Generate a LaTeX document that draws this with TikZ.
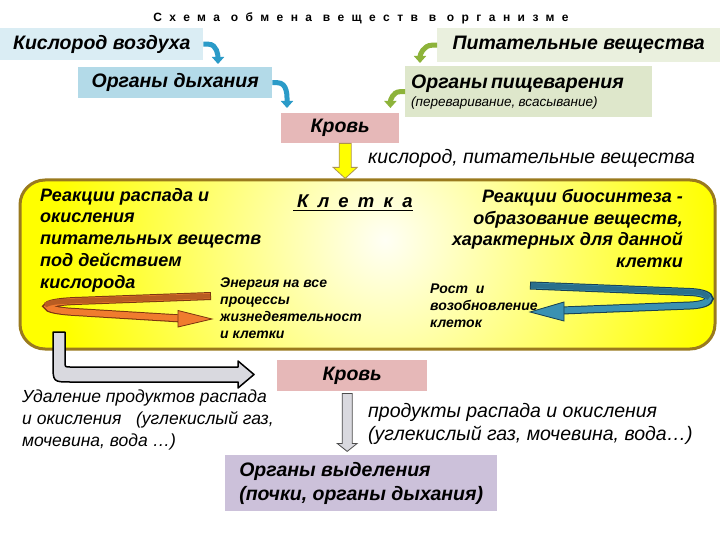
\documentclass[tikz,border=0pt]{standalone}
\usepackage{fontspec}
\setmainfont{Liberation Sans}
\usetikzlibrary{arrows.meta,calc}
\definecolor{cKV}{HTML}{DAEDF4}
\definecolor{cOD}{HTML}{B3DAE8}
\definecolor{cPV}{HTML}{EAF0DE}
\definecolor{cOP}{HTML}{DEE7CB}
\definecolor{cKR}{HTML}{E6B8B8}
\definecolor{cOV}{HTML}{CCC1DA}
\definecolor{cBlueArr}{HTML}{2B9BC8}
\definecolor{cGreenArr}{HTML}{8DB33A}
\definecolor{cCellBorder}{HTML}{9A7A1E}
\definecolor{cYel}{HTML}{FFFF00}
\definecolor{cOrDark}{HTML}{B85C22}
\definecolor{cOrLight}{HTML}{F07C2E}
\definecolor{cOrLine}{HTML}{7A3410}
\definecolor{cBlDark}{HTML}{2A6F8C}
\definecolor{cBlLight}{HTML}{3A91B2}
\definecolor{cBlLine}{HTML}{163F52}
\definecolor{cGrayArr}{HTML}{D9D9DF}
\newcommand{\bi}{\bfseries\itshape\fontsize{19.5}{22}\selectfont}
\tikzset{
  box/.style={inner sep=0pt, anchor=north west},
  barrow/.style={line width=5pt, draw=cBlueArr, -{Triangle[width=12pt,length=7pt]}},
  garrow/.style={line width=5pt, draw=cGreenArr, -{Triangle[width=12pt,length=7pt]}},
  celltext/.style={inner sep=0pt, font=\bfseries\itshape\fontsize{18}{21.75}\selectfont},
  smalltext/.style={inner sep=0pt, anchor=north west, align=left, font=\bfseries\itshape\fontsize{14}{17}\selectfont},
  plaintext/.style={inner sep=0pt, anchor=north west, align=left}
}
\begin{document}
\begin{tikzpicture}[x=1pt,y=-1pt]
\useasboundingbox (0,0) rectangle (720,540);
\fill[white] (0,0) rectangle (720,540);

% title
\node[inner sep=0pt] (title) at (361,18) {\bfseries\fontsize{12}{14}\selectfont\addfontfeature{LetterSpace=62}Схема обмена веществ в организме};

% top boxes
\node[box, fill=cKV, minimum width=203pt, minimum height=32pt, font=\bi] (kv) at (0,28) {Кислород воздуха};
\node[box, fill=cOD, minimum width=194pt, minimum height=31pt, font=\bi] (od) at (78,67) {Органы дыхания};
\node[box, fill=cPV, minimum width=283pt, minimum height=34pt, font=\bi] (pv) at (437,28) {Питательные вещества};
\node[box, fill=cOP, minimum height=51pt, text width=235pt, inner xsep=6pt, align=left] (op) at (405,66)
  {{\bi Органы пищеварения}\\[3pt]{\itshape\fontsize{13.5}{15}\selectfont (переваривание, всасывание)}};
\node[box, fill=cKR, minimum width=118pt, minimum height=30pt, font=\bi] (kr1) at (281,113) {Кровь};

% bent arrows
\draw[barrow] (kv.east) -- ++(5,0) to[out=0,in=90] ($(od.north west)+(140,-3)$);
\draw[barrow] (od.east) -- ++(5,0) to[out=0,in=90] ($(kr1.north west)+(6,-5)$);
\draw[garrow] (pv.west) -- ++(-5,0) to[out=180,in=90] ($(op.north west)+(15,-3)$);
\draw[garrow] (op.west) -- ++(-5,0) to[out=180,in=90] ($(kr1.north east)+(-9,-5)$);

% cell
\begin{scope}
  \clip[rounded corners=25pt] (20,180) rectangle (715,349);
  \fill[cYel] (20,180) rectangle (715,349);
  \shade[inner color=yellow!4, outer color=cYel] (385,240) circle (330);
\end{scope}
\node[draw=cCellBorder, line width=3pt, rounded corners=25pt, minimum width=695pt, minimum height=169pt, inner sep=0pt] (cell) at (367.5,264.5) {};

% yellow arrow Кровь -> cell
\draw[fill=cYel, draw=cCellBorder!80, line width=0.8pt] ($(kr1.south)+(-1,0)$) -- ++(12,0) -- ++(0,24) -- ++(6,0) -- ++(-12,11) -- ++(-12,-11) -- ++(6,0) -- cycle;
\node[plaintext, anchor=west, font=\itshape\fontsize{19.5}{22}\selectfont] (kpv) at (368,158) {кислород, питательные вещества};

% cell texts
\node[inner sep=0pt] (klt) at (355,201) {\bfseries\itshape\fontsize{18.5}{22}\selectfont\addfontfeature{LetterSpace=50}Клетка};
\draw[line width=1.1pt] ($(klt.base west)+(-4,3)$) -- ($(klt.base east)+(0,3)$);

\node[celltext, anchor=north west, align=left] (lt) at (40,188)
  {Реакции распада и\\окисления\\питательных веществ\\под действием\\кислорода};
\node[celltext, anchor=north east, align=right] (rt) at (683,189)
  {Реакции биосинтеза -\\образование веществ,\\характерных для данной\\клетки};
\node[smalltext] (en) at (220,278) {Энергия на все\\процессы\\жизнедеятельност\\и клетки};
\node[smalltext] (ro) at (430,284) {Рост\ \ и\\возобновление\\клеток};

% orange loop
\draw[line width=8pt, draw=cOrLine] (211,296) -- (75,301) .. controls (38,302.5) and (38,310) .. (75,312) -- (181,318.5);
\draw[line width=6pt, draw=cOrLight] (210,296) -- (75,301) .. controls (39,302.5) and (39,310) .. (75,312) -- (182,318.5);
\draw[line width=5pt, draw=cOrDark] (210,296) -- (75,301) .. controls (52,302) .. (45,305);
\draw[fill=cOrLight, draw=cOrLine, line width=0.8pt] (178,310.5) -- (212,319) -- (178,327) -- cycle;

% blue loop
\draw[line width=8pt, draw=cBlLine] (530,285.5) -- (690,292) .. controls (716,293) and (716,304.5) .. (690,305.5) -- (562,310.5);
\draw[line width=6pt, draw=cBlLight] (531,285.5) -- (690,292) .. controls (715,293) and (715,304.5) .. (690,305.5) -- (561,310.5);
\draw[line width=5pt, draw=cBlDark] (531,285.5) -- (690,292) .. controls (703,292.5) .. (709,298);
\draw[fill=cBlLight, draw=cBlLine, line width=0.8pt] (564,302) -- (530,312) -- (564,321) -- cycle;

% gray elbow arrow (from the cell out to the blood)
\draw[fill=cGrayArr, draw=black, line width=1.5pt, line join=round]
  (53,332) -- (53,364) .. controls (53,382) .. (71,382) -- (238,382) -- (238,388) -- (254,374.5) -- (238,361) -- (238,367)
  -- (70,367) .. controls (65,367) .. (65,362) -- (65,332) -- cycle;

% lower part
\node[box, fill=cKR, minimum width=150pt, minimum height=31pt, font=\bi] (kr2) at (277,360) {Кровь};
\node[plaintext, font=\itshape\fontsize{17.5}{22}\selectfont] (ud) at (22,390)
  {Удаление продуктов распада\\и окисления\ \ \ (углекислый газ,\\мочевина, вода …)};
\node[plaintext, font=\itshape\fontsize{19.5}{23}\selectfont] (pr) at (368,403)
  {продукты распада и окисления\\(углекислый газ, мочевина, вода…)};
\node[box, fill=cOV, minimum height=56pt, minimum width=272pt, align=left, font=\bfseries\itshape\fontsize{19.5}{24}\selectfont] (ov) at (225,455)
  {Органы выделения\\(почки, органы дыхания)};

% gray down arrow
\draw[fill=cGrayArr, draw=black!70, line width=0.8pt] ($(kr2.south)+(-10,2)$) -- ++(10,0) -- ++(0,50) -- ++(5,0) -- ++(-10,8) -- ++(-10,-8) -- ++(5,0) -- cycle;
\end{tikzpicture}
\end{document}
